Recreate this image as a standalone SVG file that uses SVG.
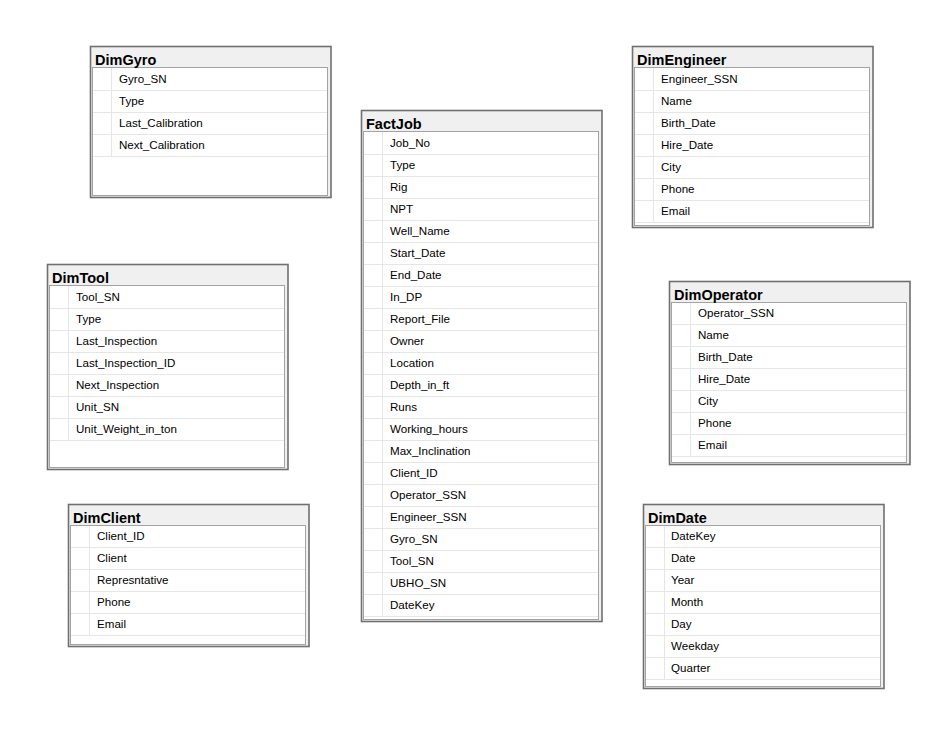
<svg xmlns="http://www.w3.org/2000/svg" width="944" height="731" viewBox="0 0 944 731">
<style>
.frame{fill:#f0f0f0;stroke:#707070;stroke-width:1.6}
.inner{fill:#ffffff;stroke:#a3a3a3;stroke-width:1}
.sep{stroke:#e6e6e6;stroke-width:1;fill:none}
.title{font-family:"Liberation Sans",Arial,sans-serif;font-weight:bold;font-size:14.5px;fill:#000}
.col{font-family:"Liberation Sans",Arial,sans-serif;font-size:11.6px;fill:#000}
</style>
<rect x="0" y="0" width="944" height="731" fill="#ffffff"/>
<g id="connectors"></g>

<g id="DimGyro">
<rect class="frame" x="90.5" y="46.5" width="240.5" height="151"/>
<rect class="inner" x="92.5" y="67.5" width="235" height="128"/>
<path class="sep" d="M93 90.5H327M93 112.5H327M93 134.5H327M93 156.5H327M111.5 68V156"/>
<text class="title" x="95" y="65">DimGyro</text>
<text class="col" x="119" y="83">Gyro_SN</text>
<text class="col" x="119" y="105">Type</text>
<text class="col" x="119" y="127">Last_Calibration</text>
<text class="col" x="119" y="149">Next_Calibration</text>
</g>

<g id="DimEngineer">
<rect class="frame" x="632.5" y="46.5" width="240.5" height="181"/>
<rect class="inner" x="634.5" y="67.5" width="235" height="158"/>
<path class="sep" d="M635 90.5H869M635 112.5H869M635 134.5H869M635 156.5H869M635 178.5H869M635 200.5H869M635 222.5H869M653.5 68V222"/>
<text class="title" x="637" y="65">DimEngineer</text>
<text class="col" x="661" y="83">Engineer_SSN</text>
<text class="col" x="661" y="105">Name</text>
<text class="col" x="661" y="127">Birth_Date</text>
<text class="col" x="661" y="149">Hire_Date</text>
<text class="col" x="661" y="171">City</text>
<text class="col" x="661" y="193">Phone</text>
<text class="col" x="661" y="215">Email</text>
</g>

<g id="FactJob">
<rect class="frame" x="361.5" y="110.5" width="240.5" height="511"/>
<rect class="inner" x="363.5" y="131.5" width="235" height="488"/>
<path class="sep" d="M364 154.5H598M364 176.5H598M364 198.5H598M364 220.5H598M364 242.5H598M364 264.5H598M364 286.5H598M364 308.5H598M364 330.5H598M364 352.5H598M364 374.5H598M364 396.5H598M364 418.5H598M364 440.5H598M364 462.5H598M364 484.5H598M364 506.5H598M364 528.5H598M364 550.5H598M364 572.5H598M364 594.5H598M364 616.5H598M382.5 132V616"/>
<text class="title" x="366" y="129">FactJob</text>
<text class="col" x="390" y="147">Job_No</text>
<text class="col" x="390" y="169">Type</text>
<text class="col" x="390" y="191">Rig</text>
<text class="col" x="390" y="213">NPT</text>
<text class="col" x="390" y="235">Well_Name</text>
<text class="col" x="390" y="257">Start_Date</text>
<text class="col" x="390" y="279">End_Date</text>
<text class="col" x="390" y="301">In_DP</text>
<text class="col" x="390" y="323">Report_File</text>
<text class="col" x="390" y="345">Owner</text>
<text class="col" x="390" y="367">Location</text>
<text class="col" x="390" y="389">Depth_in_ft</text>
<text class="col" x="390" y="411">Runs</text>
<text class="col" x="390" y="433">Working_hours</text>
<text class="col" x="390" y="455">Max_Inclination</text>
<text class="col" x="390" y="477">Client_ID</text>
<text class="col" x="390" y="499">Operator_SSN</text>
<text class="col" x="390" y="521">Engineer_SSN</text>
<text class="col" x="390" y="543">Gyro_SN</text>
<text class="col" x="390" y="565">Tool_SN</text>
<text class="col" x="390" y="587">UBHO_SN</text>
<text class="col" x="390" y="609">DateKey</text>
</g>

<g id="DimTool">
<rect class="frame" x="47.5" y="264.5" width="240.5" height="205"/>
<rect class="inner" x="49.5" y="285.5" width="235" height="182"/>
<path class="sep" d="M50 308.5H284M50 330.5H284M50 352.5H284M50 374.5H284M50 396.5H284M50 418.5H284M50 440.5H284M68.5 286V440"/>
<text class="title" x="52" y="283">DimTool</text>
<text class="col" x="76" y="301">Tool_SN</text>
<text class="col" x="76" y="323">Type</text>
<text class="col" x="76" y="345">Last_Inspection</text>
<text class="col" x="76" y="367">Last_Inspection_ID</text>
<text class="col" x="76" y="389">Next_Inspection</text>
<text class="col" x="76" y="411">Unit_SN</text>
<text class="col" x="76" y="433">Unit_Weight_in_ton</text>
</g>

<g id="DimOperator">
<rect class="frame" x="669.5" y="281.5" width="240.5" height="183"/>
<rect class="inner" x="671.5" y="302.5" width="235" height="160"/>
<path class="sep" d="M672 324.5H906M672 346.5H906M672 368.5H906M672 390.5H906M672 412.5H906M672 434.5H906M672 456.5H906M690.5 303V456"/>
<text class="title" x="674" y="300">DimOperator</text>
<text class="col" x="698" y="317">Operator_SSN</text>
<text class="col" x="698" y="339">Name</text>
<text class="col" x="698" y="361">Birth_Date</text>
<text class="col" x="698" y="383">Hire_Date</text>
<text class="col" x="698" y="405">City</text>
<text class="col" x="698" y="427">Phone</text>
<text class="col" x="698" y="449">Email</text>
</g>

<g id="DimClient">
<rect class="frame" x="68.5" y="504.5" width="240.5" height="142"/>
<rect class="inner" x="70.5" y="525.5" width="235" height="119"/>
<path class="sep" d="M71 547.5H305M71 569.5H305M71 591.5H305M71 613.5H305M71 635.5H305M89.5 526V635"/>
<text class="title" x="73" y="523">DimClient</text>
<text class="col" x="97" y="540">Client_ID</text>
<text class="col" x="97" y="562">Client</text>
<text class="col" x="97" y="584">Represntative</text>
<text class="col" x="97" y="606">Phone</text>
<text class="col" x="97" y="628">Email</text>
</g>

<g id="DimDate">
<rect class="frame" x="643.5" y="504.5" width="240.5" height="184"/>
<rect class="inner" x="645.5" y="525.5" width="235" height="161"/>
<path class="sep" d="M646 547.5H880M646 569.5H880M646 591.5H880M646 613.5H880M646 635.5H880M646 657.5H880M646 679.5H880M664.5 526V679"/>
<text class="title" x="648" y="523">DimDate</text>
<text class="col" x="671" y="540">DateKey</text>
<text class="col" x="671" y="562">Date</text>
<text class="col" x="671" y="584">Year</text>
<text class="col" x="671" y="606">Month</text>
<text class="col" x="671" y="628">Day</text>
<text class="col" x="671" y="650">Weekday</text>
<text class="col" x="671" y="672">Quarter</text>
</g>
</svg>
